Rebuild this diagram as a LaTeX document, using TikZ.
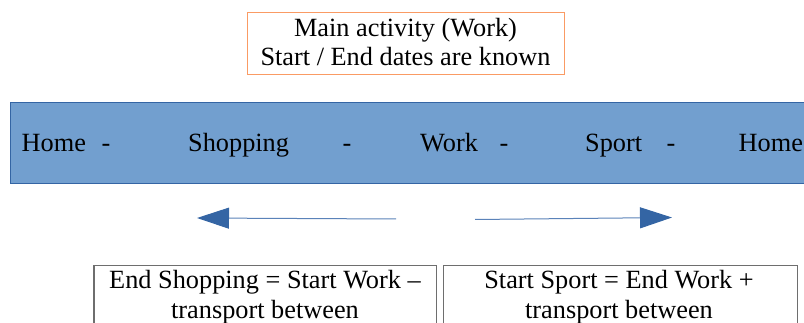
\documentclass[tikz,border=0pt]{standalone}
\usepackage{fontspec}
\setmainfont{Liberation Serif}
\usetikzlibrary{arrows.meta}
\definecolor{bandfill}{RGB}{114,159,207}
\definecolor{bandline}{RGB}{52,101,164}
\definecolor{arrline}{RGB}{90,130,185}
\definecolor{orangeline}{RGB}{250,155,100}
\definecolor{grayline}{RGB}{110,110,110}
\tikzset{
  txt/.style={anchor=base, inner sep=0pt, font=\fontsize{26.3}{28}\selectfont},
  wtxt/.style={anchor=base west, inner sep=0pt, font=\fontsize{26.3}{28}\selectfont},
  topbox/.style={draw=orangeline, line width=1.4pt, inner sep=0pt, anchor=north west},
  botbox/.style={draw=grayline, line width=1.4pt, inner sep=0pt, anchor=north west},
  band/.style={draw=bandline, line width=0.8pt, fill=bandfill, inner sep=0pt, anchor=north west},
  arr/.style={draw=arrline, line width=1pt, -{Triangle[length=32pt,width=21pt,color=bandline,fill=bandline]}}
}
\begin{document}
\begin{tikzpicture}[x=1pt,y=-1pt]
\useasboundingbox (0,0) rectangle (804,323);
% top box
\node[topbox, minimum width=317pt, minimum height=62pt] (tb) at (247,12) {};
\node[txt] (t1) at (405.5,37) {Main activity (Work)};
\node[txt] (t2) at (405.5,65.3) {Start / End dates are known};
% band
\node[band, minimum width=802pt, minimum height=80.5pt] (bd) at (10,102.5) {};
\node[wtxt] (h1) at (21.5,151.5) {Home};
\node[wtxt] (d1) at (101.5,151.5) {-};
\node[wtxt] (s1) at (188,151.5) {Shopping};
\node[wtxt] (d2) at (342.5,151.5) {-};
\node[wtxt] (w1) at (420,151.5) {Work};
\node[wtxt] (d3) at (499.5,151.5) {-};
\node[wtxt] (sp) at (585,151.5) {Sport};
\node[wtxt] (d4) at (666.5,151.5) {-};
\node[wtxt] (h2) at (738.5,151.5) {Home};
% arrows
\coordinate (la1) at (396,219);
\coordinate (la2) at (197,218);
\coordinate (ra1) at (475,219.5);
\coordinate (ra2) at (672,217.5);
\draw[arr] (la1) -- (la2);
\draw[arr] (ra1) -- (ra2);
% bottom boxes
\node[botbox, minimum width=342.7pt, minimum height=80pt] (lb) at (93.3,265) {};
\node[botbox, minimum width=354pt, minimum height=80pt] (rb) at (443,265) {};
\node[txt] (l1) at (265,289) {End Shopping = Start Work –};
\node[txt] (l2) at (265,318.2) {transport between};
\node[txt] (r1) at (619,289) {Start Sport = End Work +};
\node[txt] (r2) at (619,318.2) {transport between};
\end{tikzpicture}
\end{document}
